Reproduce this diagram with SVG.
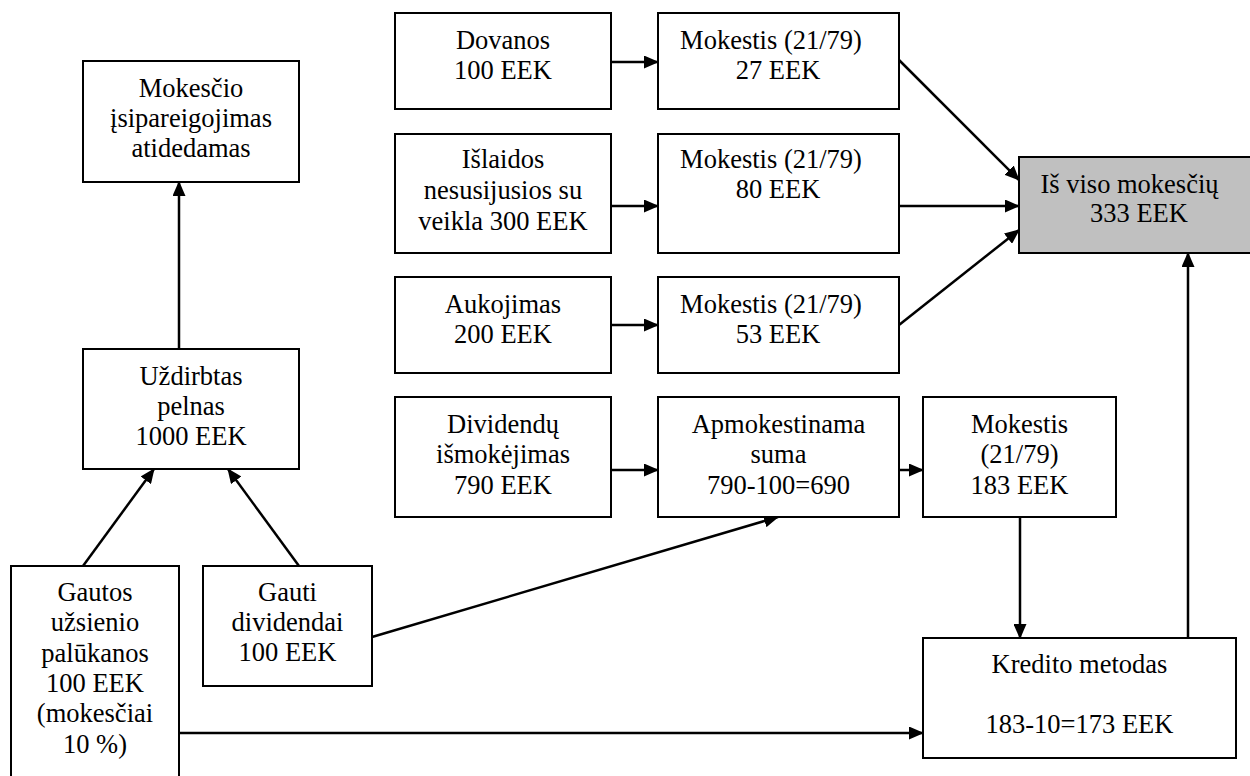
<svg xmlns="http://www.w3.org/2000/svg" width="1250" height="776" viewBox="0 0 1250 776">
  <style>
    .box { fill: #ffffff; stroke: #000000; stroke-width: 2; }
    .total { fill: #c0c0c0; stroke: #000000; stroke-width: 2; }
    text { font-family: 'Liberation Serif', 'DejaVu Serif', serif; font-size: 26.5px; fill: #000000; text-anchor: middle; }
    .conn { fill: none; stroke: #000000; stroke-width: 2.5; marker-end: url(#arrow); }
  </style>
  <defs>
    <marker id="arrow" markerUnits="userSpaceOnUse" markerWidth="15" markerHeight="13" refX="14" refY="6.5" orient="auto">
      <path d="M0,0 L15,6.5 L0,13 Z" fill="#000000"/>
    </marker>
  </defs>

  <rect width="1250" height="776" fill="#ffffff"/>

  <!-- connectors -->
  <g id="connectors">
    <line class="conn" x1="611" y1="62" x2="658" y2="62"/>
    <line class="conn" x1="611" y1="206" x2="658" y2="206"/>
    <line class="conn" x1="611" y1="325" x2="658" y2="325"/>
    <line class="conn" x1="611" y1="470" x2="658" y2="470"/>
    <line class="conn" x1="899" y1="470" x2="923" y2="470"/>
    <line class="conn" x1="899" y1="60" x2="1019" y2="180"/>
    <line class="conn" x1="899" y1="206" x2="1019" y2="206"/>
    <line class="conn" x1="899" y1="325" x2="1019" y2="230"/>
    <line class="conn" x1="1020" y1="517" x2="1020" y2="638"/>
    <line class="conn" x1="1188" y1="638" x2="1188" y2="253"/>
    <line class="conn" x1="179" y1="733" x2="923" y2="733"/>
    <line class="conn" x1="372" y1="637" x2="778" y2="517"/>
    <line class="conn" x1="83" y1="566" x2="154" y2="469"/>
    <line class="conn" x1="299" y1="566" x2="228" y2="469"/>
    <line class="conn" x1="179" y1="349" x2="179" y2="182"/>
  </g>

  <g font-family="'Liberation Serif', 'DejaVu Serif', serif" font-size="26.5" text-anchor="middle">
  <!-- left column -->
  <g id="mokescio-isipareigojimas">
    <rect class="box" x="83" y="61" width="216" height="121"/>
    <text x="191" y="97">Mokesčio</text>
    <text x="191" y="127">įsipareigojimas</text>
    <text x="191" y="157">atidedamas</text>
  </g>
  <g id="uzdirbtas-pelnas">
    <rect class="box" x="83" y="349" width="216" height="120"/>
    <text x="191" y="385">Uždirbtas</text>
    <text x="191" y="415">pelnas</text>
    <text x="191" y="445">1000 EEK</text>
  </g>
  <g id="gautos-palukanos">
    <rect class="box" x="11" y="566" width="168" height="220"/>
    <text x="95" y="601">Gautos</text>
    <text x="95" y="631">užsienio</text>
    <text x="95" y="662">palūkanos</text>
    <text x="95" y="692">100 EEK</text>
    <text x="95" y="722">(mokesčiai</text>
    <text x="95" y="753">10 %)</text>
  </g>
  <g id="gauti-dividendai">
    <rect class="box" x="203" y="566" width="169" height="120"/>
    <text x="287.5" y="601">Gauti</text>
    <text x="287.5" y="631">dividendai</text>
    <text x="287.5" y="661">100 EEK</text>
  </g>

  <!-- source items -->
  <g id="dovanos">
    <rect class="box" x="395" y="13" width="216" height="96"/>
    <text x="503" y="49">Dovanos</text>
    <text x="503" y="79">100 EEK</text>
  </g>
  <g id="islaidos">
    <rect class="box" x="395" y="134" width="216" height="119"/>
    <text x="503" y="168">Išlaidos</text>
    <text x="503" y="199">nesusijusios su</text>
    <text x="503" y="230">veikla 300 EEK</text>
  </g>
  <g id="aukojimas">
    <rect class="box" x="395" y="277" width="216" height="96"/>
    <text x="503" y="313">Aukojimas</text>
    <text x="503" y="343">200 EEK</text>
  </g>
  <g id="dividendu-ismokejimas">
    <rect class="box" x="395" y="397" width="216" height="120"/>
    <text x="503" y="433">Dividendų</text>
    <text x="503" y="463">išmokėjimas</text>
    <text x="503" y="494">790 EEK</text>
  </g>

  <!-- tax boxes -->
  <g id="mokestis-27">
    <rect class="box" x="658" y="13" width="241" height="96"/>
    <text x="771" y="49">Mokestis (21/79)</text>
    <text x="778" y="79">27 EEK</text>
  </g>
  <g id="mokestis-80">
    <rect class="box" x="658" y="134" width="241" height="119"/>
    <text x="771" y="168">Mokestis (21/79)</text>
    <text x="778" y="198">80 EEK</text>
  </g>
  <g id="mokestis-53">
    <rect class="box" x="658" y="277" width="241" height="96"/>
    <text x="771" y="313">Mokestis (21/79)</text>
    <text x="778" y="343">53 EEK</text>
  </g>
  <g id="apmokestinama-suma">
    <rect class="box" x="658" y="397" width="241" height="120"/>
    <text x="778.5" y="433">Apmokestinama</text>
    <text x="778.5" y="463">suma</text>
    <text x="778.5" y="494">790-100=690</text>
  </g>
  <g id="mokestis-183">
    <rect class="box" x="923" y="397" width="193" height="120"/>
    <text x="1019.5" y="433">Mokestis</text>
    <text x="1019.5" y="463">(21/79)</text>
    <text x="1019.5" y="494">183 EEK</text>
  </g>
  <g id="kredito-metodas">
    <rect class="box" x="923" y="638" width="313" height="120"/>
    <text x="1079.5" y="673">Kredito metodas</text>
    <text x="1079.5" y="733">183-10=173 EEK</text>
  </g>

  <!-- total -->
  <g id="is-viso-mokesciu">
    <rect class="total" x="1019" y="157" width="240" height="96"/>
    <text x="1129.5" y="193">Iš viso mokesčių</text>
    <text x="1139" y="222">333 EEK</text>
  </g>
  </g>
</svg>
